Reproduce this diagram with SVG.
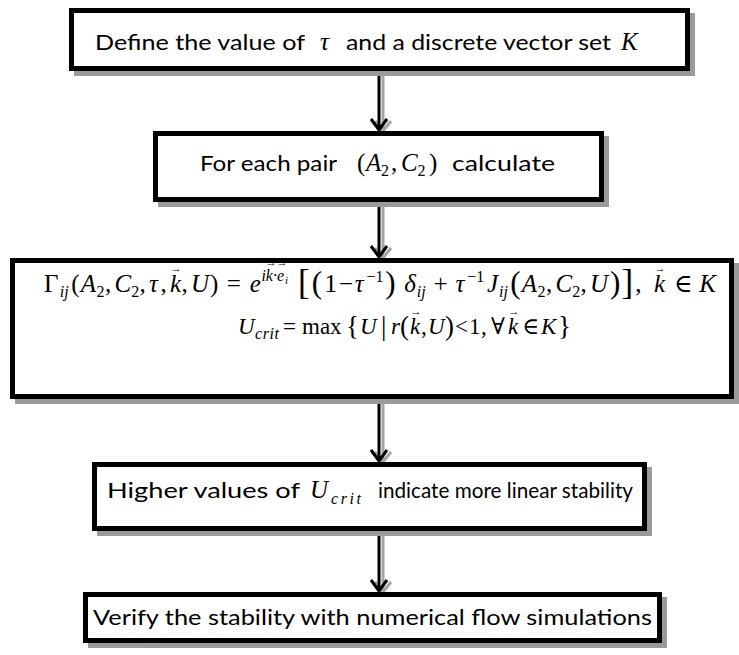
<svg xmlns="http://www.w3.org/2000/svg" width="739" height="655" viewBox="0 0 739 655">
<style>
.box{fill:#fff;stroke:#000;stroke-width:5}
.sh{fill:#9a9a9a}
.t{font-family:Lato,"Open Sans","Liberation Sans",sans-serif;font-size:22px;fill:#000}
.m{font-family:"Liberation Serif","DejaVu Serif",serif;font-size:25px;fill:#000}
.m2{font-family:"Liberation Serif","DejaVu Serif",serif;font-size:23px;fill:#000}
.i{font-style:italic}
.sb{font-size:16px}
.xs{font-size:11px}
.vec{font-size:11px;font-style:normal}
.big{font-size:35px}
.par{font-size:31px}
.par2{font-size:27px}
.ar{fill:none;stroke:#000;stroke-width:3}
.ag{fill:none;stroke:#a6a6a6;stroke-width:3}
</style>
<rect width="739" height="655" fill="#fff"/>
<g id="connectors">
<g id="a1"><path class="ag" d="M383,73 V130 M375,121 L383,131 L391,121"/><path class="ar" d="M379,71 V129 M371,119 L379,130 L387,119"/></g>
<g id="a2"><path class="ag" d="M383,204 V257 M375,248 L383,258 L391,248"/><path class="ar" d="M379,202 V256 M371,246 L379,257 L387,246"/></g>
<g id="a3"><path class="ag" d="M383,401 V461 M375,452 L383,462 L391,452"/><path class="ar" d="M379,399 V460 M371,450 L379,461 L387,450"/></g>
<g id="a4"><path class="ag" d="M383,533 V591 M375,582 L383,592 L391,582"/><path class="ar" d="M379,531 V590 M371,580 L379,591 L387,580"/></g>
</g>
<g id="n1">
<rect class="sh" x="74" y="13" width="621" height="63"/>
<rect class="box" x="71.5" y="10.5" width="616" height="58"/>
<text class="t" x="95" y="50" textLength="210" lengthAdjust="spacingAndGlyphs">Define the value of</text>
<text class="m i" x="320" y="50" font-size="24">τ</text>
<text class="t" x="346" y="50" textLength="265" lengthAdjust="spacingAndGlyphs">and a discrete vector set</text>
<text class="m i" x="621" y="50" font-size="24">K</text>
</g>
<g id="n2">
<rect class="sh" x="158" y="136" width="451" height="71"/>
<rect class="box" x="155.5" y="133.5" width="446" height="66"/>
<text class="t" x="200" y="171" textLength="137" lengthAdjust="spacingAndGlyphs">For each pair</text>
<text class="m" y="171" font-size="24"><tspan x="357">(</tspan><tspan class="i" x="366">A</tspan><tspan class="sb" x="381" y="176">2</tspan><tspan x="391" y="171">,</tspan><tspan class="i" x="401">C</tspan><tspan class="sb" x="417.5" y="176">2</tspan><tspan x="429" y="171">)</tspan></text>
<text class="t" x="452" y="171" textLength="103" lengthAdjust="spacingAndGlyphs">calculate</text>
</g>
<g id="n3">
<rect class="sh" x="15" y="263" width="724" height="141"/>
<rect class="box" x="12.5" y="260.5" width="719" height="136"/>
<g transform="translate(-4,0)">
<text class="m" y="292"><tspan x="48">Γ</tspan><tspan class="sb i" x="63.8" y="297">ij</tspan><tspan x="75.3" y="292">(</tspan><tspan class="i" x="84.8">A</tspan><tspan class="sb" x="100.5" y="297">2</tspan><tspan x="108.9" y="292">,</tspan><tspan class="i" x="118.4">C</tspan><tspan class="sb" x="135.2" y="297">2</tspan><tspan x="143.6" y="292">,</tspan><tspan class="i" x="153">τ</tspan><tspan x="164.6">,</tspan><tspan class="i" x="174">k</tspan><tspan x="185.6">,</tspan><tspan class="i" x="195">U</tspan><tspan x="213.9">)</tspan><tspan x="230.7">=</tspan><tspan class="i" x="253.8">e</tspan><tspan class="sb i" x="265.4" y="281">ik·e</tspan><tspan class="xs i" x="289" y="284">i</tspan><tspan class="big" x="302.1" y="294">[</tspan><tspan class="par" x="315.8" y="293">(</tspan><tspan x="328.4" y="292">1</tspan><tspan x="343">−</tspan><tspan class="i" x="358.8">τ</tspan><tspan class="sb" x="370.4" y="282">−1</tspan><tspan class="par" x="389.3" y="293">)</tspan><tspan class="i" x="408.2" y="292">δ</tspan><tspan class="sb i" x="420.8" y="297">ij</tspan><tspan x="437.6" y="292">+</tspan><tspan class="i" x="459.6">τ</tspan><tspan class="sb" x="471.2" y="282">−1</tspan><tspan class="i" x="491.1" y="292">J</tspan><tspan class="sb i" x="503" y="297">ij</tspan><tspan class="par" x="514.2" y="293">(</tspan><tspan class="i" x="525.8" y="292">A</tspan><tspan class="sb" x="541.5" y="297">2</tspan><tspan x="549.9" y="292">,</tspan><tspan class="i" x="559.4">C</tspan><tspan class="sb" x="576.2" y="297">2</tspan><tspan x="584.6" y="292">,</tspan><tspan class="i" x="594">U</tspan><tspan class="par" x="614" y="293">)</tspan><tspan class="big" x="625.5" y="294">]</tspan><tspan x="639.2" y="292">,</tspan><tspan class="i" x="658.1">k</tspan><tspan x="678">∈</tspan><tspan class="i" x="703.2">K</tspan></text>
<text class="m"><tspan class="vec" x="174.5" y="272">→</tspan><tspan class="vec" font-size="9" x="269.5" y="266">→</tspan><tspan class="vec" font-size="9" x="280.5" y="266">→</tspan><tspan class="vec" x="658.5" y="272">→</tspan></text>
</g>
<g transform="translate(20,0)">
<text class="m2" y="334"><tspan class="i" x="218">U</tspan><tspan class="sb i" x="235" y="339" textLength="24">crit</tspan><tspan x="263" y="334">=</tspan><tspan x="282">max</tspan><tspan class="par2" x="326" y="335">{</tspan><tspan class="i" x="340" y="334">U</tspan><tspan class="par2" x="361" y="335">|</tspan><tspan class="i" x="371" y="334">r</tspan><tspan class="par2" x="380" y="335">(</tspan><tspan class="i" x="390" y="334">k</tspan><tspan x="401">,</tspan><tspan class="i" x="408">U</tspan><tspan class="par2" x="425" y="335">)</tspan><tspan x="435" y="334">&lt;</tspan><tspan x="449">1</tspan><tspan x="461">,</tspan><tspan x="471">∀</tspan><tspan class="i" x="488">k</tspan><tspan x="502">∈</tspan><tspan class="i" x="521">K</tspan><tspan class="par2" x="538" y="335">}</tspan></text>
<text class="m"><tspan class="vec" x="390.5" y="315">→</tspan><tspan class="vec" x="488.5" y="315">→</tspan></text>
</g>
</g>
<g id="n4">
<rect class="sh" x="97" y="467" width="555" height="69"/>
<rect class="box" x="94.5" y="464.5" width="550" height="64"/>
<text class="t" x="107" y="498" textLength="193" lengthAdjust="spacingAndGlyphs">Higher values of</text>
<text class="m" y="498" font-size="24"><tspan class="i" x="310">U</tspan><tspan class="sb i" x="331" y="504" textLength="30">crit</tspan></text>
<text class="t" x="378" y="498" textLength="255" lengthAdjust="spacingAndGlyphs">indicate more linear stability</text>
</g>
<g id="n5">
<rect class="sh" x="88" y="597" width="579" height="51"/>
<rect class="box" x="85.5" y="594.5" width="574" height="46"/>
<text class="t" x="93" y="625" textLength="559" lengthAdjust="spacingAndGlyphs">Verify the stability with numerical flow simulations</text>
</g>
</svg>
